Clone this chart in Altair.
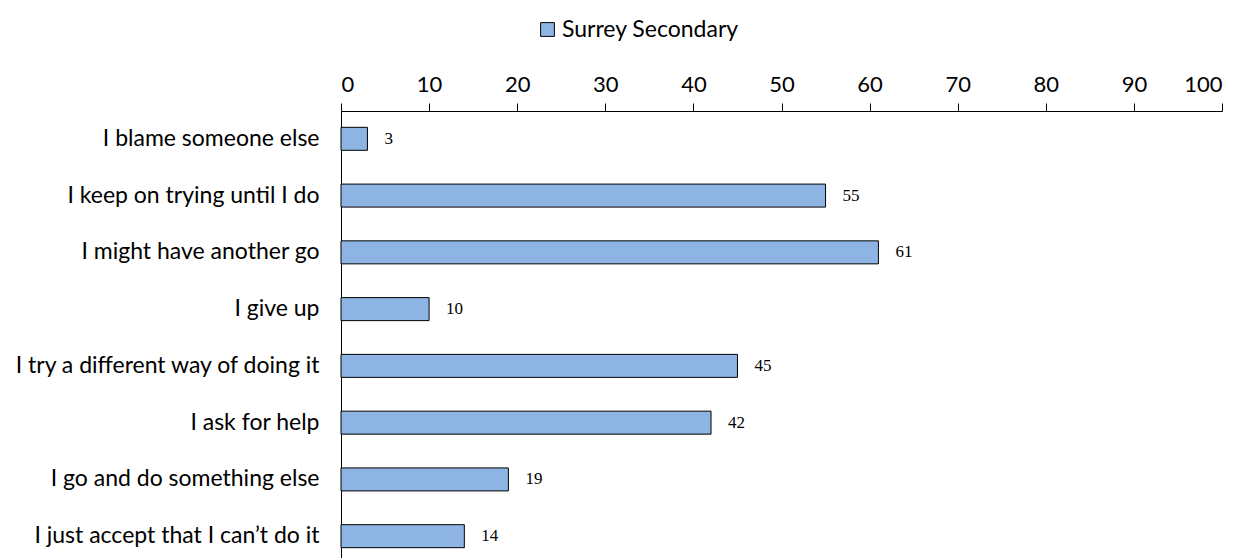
import altair as alt
import pandas as pd

categories = [
    "I blame someone else",
    "I keep on trying until I do",
    "I might have another go",
    "I give up",
    "I try a different way of doing it",
    "I ask for help",
    "I go and do something else",
    "I just accept that I can\u2019t do it",
]
values = [3, 55, 61, 10, 45, 42, 19, 14]
series = "Surrey Secondary"

df = pd.DataFrame({"cat": categories, "val": values, "series": series})

FONT = "Lato"

base = alt.Chart(df)

bars = base.mark_bar(stroke="black", strokeWidth=1, size=23).encode(
    y=alt.Y("cat:N", sort=categories, title=None,
            scale=alt.Scale(paddingInner=0.6, paddingOuter=0.29),
            axis=alt.Axis(ticks=False, labelFontSize=23, labelPadding=22,
                          labelColor="black", domainColor="black", labelFont=FONT, labelLimit=500)),
    x=alt.X("val:Q", title=None,
            scale=alt.Scale(domain=[0, 100], nice=False),
            axis=alt.Axis(orient="top", values=list(range(0, 101, 10)), grid=False,
                          labelFontSize=22, labelColor="black", labelFont=FONT,
                          tickColor="black", domainColor="black", tickSize=8,
                          labelPadding=7)),
    color=alt.Color("series:N", scale=alt.Scale(range=["#8EB4E3"]),
                    legend=alt.Legend(title=None, orient="none", legendX=195, legendY=-93,
                                      symbolType="square", symbolSize=190,
                                      symbolStrokeColor="black", symbolStrokeWidth=1,
                                      labelFontSize=23, labelFont=FONT, labelColor="black",
                                      labelOffset=3, labelLimit=400)),
)

labels = base.mark_text(align="left", baseline="middle", dx=17, fontSize=17,
                        font="Liberation Serif", color="black").encode(
    y=alt.Y("cat:N", sort=categories),
    x="val:Q",
    text="val:Q",
)

chart = (bars + labels).properties(
    width=881, height=453,
    padding={"top": 10, "left": 5, "right": 5, "bottom": 5},
).configure_view(stroke=None)

chart.save("out.html", embed_options={"renderer": "svg", "actions": False})
